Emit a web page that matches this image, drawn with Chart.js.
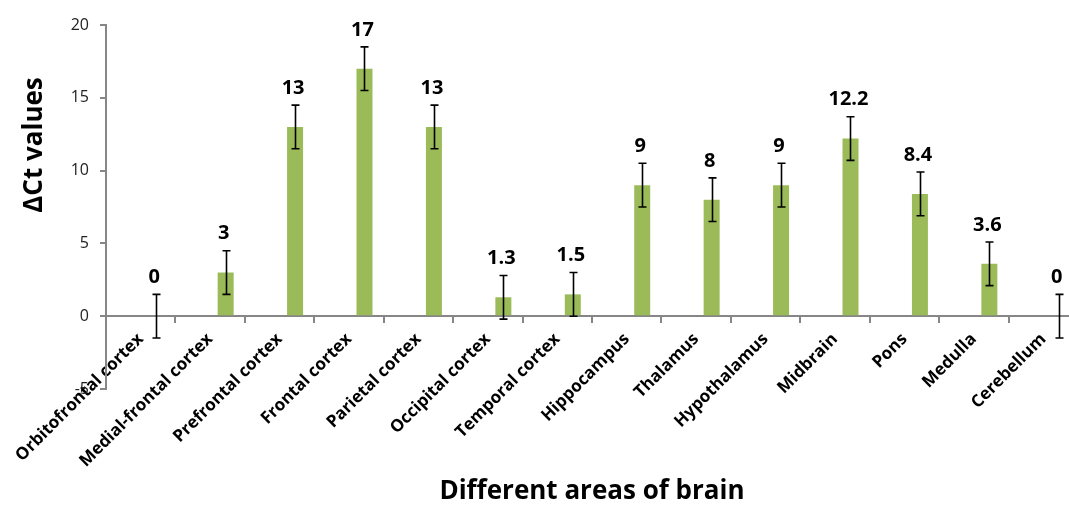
<!DOCTYPE html>
<html><head><meta charset="utf-8">
<script src="https://cdn.jsdelivr.net/npm/chart.js@4/dist/chart.umd.min.js"></script>
<style>html,body{margin:0;padding:0;overflow:hidden;background:#fff}#wrap{width:1080px;height:506px}</style>
</head><body><div id="wrap"><canvas id="c" width="1080" height="506" style="width:1080px;height:506px"></canvas></div>
<script>
const categories = ['Orbitofrontal cortex','Medial-frontal cortex','Prefrontal cortex','Frontal cortex','Parietal cortex','Occipital cortex','Temporal cortex','Hippocampus','Thalamus','Hypothalamus','Midbrain','Pons','Medulla','Cerebellum'];
const values = [0, 3, 13, 17, 13, 1.3, 1.5, 9, 8, 9, 12.2, 8.4, 3.6, 0];
const errors = [1.5, 1.5, 1.5, 1.5, 1.5, 1.5, 1.5, 1.5, 1.5, 1.5, 1.5, 1.5, 1.5, 1.5];
const yTicks = [-5, 0, 5, 10, 15, 20];
const yTitle = 'ΔCt values';
const xTitle = 'Different areas of brain';

const FONT = '"Open Sans", sans-serif';
const AXIS = '#868686';

const overlay = {
  id: 'overlay',
  afterDatasetsDraw(chart) {
    const ctx = chart.ctx, meta = chart.getDatasetMeta(1), ys = chart.scales.y;
    ctx.save();
    ctx.strokeStyle = '#000'; ctx.lineWidth = 1.6;
    meta.data.forEach((bar, i) => {
      const x = Math.round(bar.x) + 0.5;
      const top = ys.getPixelForValue(values[i] + errors[i]);
      const bot = ys.getPixelForValue(values[i] - errors[i]);
      ctx.beginPath();
      ctx.moveTo(x, top); ctx.lineTo(x, bot);
      ctx.moveTo(x - 4, top); ctx.lineTo(x + 4, top);
      ctx.moveTo(x - 4, bot); ctx.lineTo(x + 4, bot);
      ctx.stroke();
      ctx.font = 'bold 20px ' + FONT; ctx.fillStyle = '#000';
      ctx.textAlign = 'center'; ctx.textBaseline = 'middle';
      ctx.fillText(String(values[i]), bar.x - 2, top - 17);
    });
    ctx.font = 'bold 26px ' + FONT; ctx.fillStyle = '#000';
    ctx.textAlign = 'center'; ctx.textBaseline = 'middle';
    ctx.fillText(xTitle, 592, 492);
    ctx.translate(35, 145); ctx.rotate(-Math.PI / 2);
    ctx.fillText(yTitle, 0, 0);
    ctx.restore();
  }
};

new Chart(document.getElementById('c'), {
  type: 'bar',
  data: {
    labels: categories,
    datasets: [
      { label: 'spacer', data: categories.map(() => null), backgroundColor: 'rgba(0,0,0,0)' },
      { label: 'ΔCt', data: values, backgroundColor: '#9BBB59', borderWidth: 0 }
    ]
  },
  options: {
    responsive: false,
    animation: false,
    devicePixelRatio: 1,
    categoryPercentage: 0.893,
    barPercentage: 0.516,
    layout: { padding: { left: 0, top: 25, right: 2, bottom: 117 } },
    plugins: { legend: { display: false }, tooltip: { enabled: false } },
    scales: {
      x: {
        position: { y: 0 },
        grid: { drawOnChartArea: false, drawTicks: true, tickLength: 6, color: AXIS, lineWidth: 2, offset: true },
        border: { color: AXIS, width: 2 },
        ticks: { autoSkip: false, minRotation: 45, maxRotation: 45, color: '#000', padding: 7,
                 font: { family: FONT, size: 17, weight: 'bold' } }
      },
      y: {
        min: -5, max: 20,
        afterFit(scale) { scale.width = 106; },
        afterBuildTicks(scale) { scale.ticks = yTicks.map(v => ({ value: v })); },
        grid: { drawOnChartArea: false, drawTicks: true, tickLength: 6, color: AXIS, lineWidth: 2 },
        border: { color: AXIS, width: 2 },
        ticks: { color: '#222', padding: 11, font: { family: FONT, size: 16 } }
      }
    }
  },
  plugins: [overlay]
});
</script></body></html>
